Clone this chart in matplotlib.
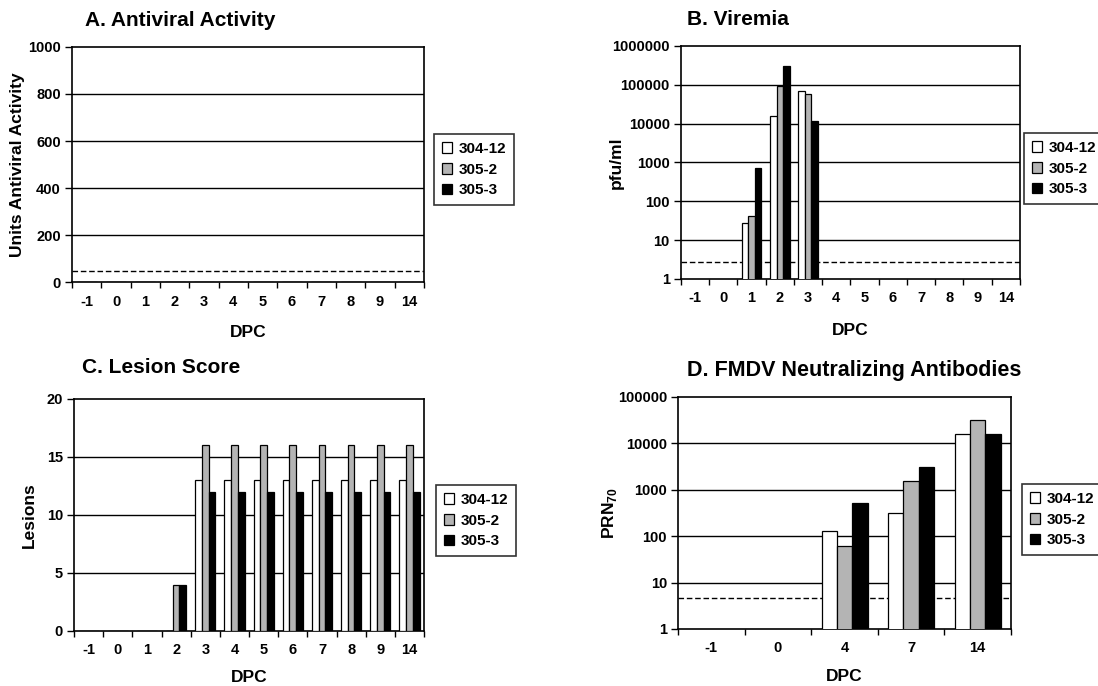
import numpy as np
import matplotlib
matplotlib.use('Agg')
import matplotlib.pyplot as plt
from matplotlib.ticker import FixedLocator

plt.rcParams['font.family'] = ['Liberation Sans', 'DejaVu Sans']
plt.rcParams['font.weight'] = 'bold'
plt.rcParams['mathtext.fontset'] = 'custom'
plt.rcParams['mathtext.rm'] = 'Liberation Sans:bold'
plt.rcParams['mathtext.bf'] = 'Liberation Sans:bold'

animals = ['304-12', '305-2', '305-3']
colors = ['white', '#b4b4b4', 'black']

# days post challenge
days = ['-1', '0', '1', '2', '3', '4', '5', '6', '7', '8', '9', '14']
days_ab = ['-1', '0', '4', '7', '14']

# A. antiviral activity (none detected)
antiviral_304_12 = [0, 0, 0, 0, 0, 0, 0, 0, 0, 0, 0, 0]
antiviral_305_2 = [0, 0, 0, 0, 0, 0, 0, 0, 0, 0, 0, 0]
antiviral_305_3 = [0, 0, 0, 0, 0, 0, 0, 0, 0, 0, 0, 0]
antiviral_limit = 45

# B. viremia, pfu/ml (nan = not detected)
nd = np.nan
viremia_304_12 = [nd, nd, 28, 15500, 68000, nd, nd, nd, nd, nd, nd, nd]
viremia_305_2 = [nd, nd, 42, 92000, 57000, nd, nd, nd, nd, nd, nd, nd]
viremia_305_3 = [nd, nd, 740, 300000, 11500, nd, nd, nd, nd, nd, nd, nd]
viremia_limit = 2.7

# C. lesion score
lesion_304_12 = [0, 0, 0, 0, 13, 13, 13, 13, 13, 13, 13, 13]
lesion_305_2 = [0, 0, 0, 4, 16, 16, 16, 16, 16, 16, 16, 16]
lesion_305_3 = [0, 0, 0, 4, 12, 12, 12, 12, 12, 12, 12, 12]

# D. neutralizing antibodies, PRN70
prn_304_12 = [nd, nd, 130, 316, 16000]
prn_305_2 = [nd, nd, 60, 1550, 32000]
prn_305_3 = [nd, nd, 520, 3150, 16000]
prn_limit = 4.7


def draw_panel(ax, cats, series, yticks, ylim, log=False, limit=None):
    x = np.arange(len(cats))
    w = 0.23
    if log:
        ax.set_yscale('log')
    for i, vals in enumerate(series):
        ax.bar(x + (i - 1) * w, vals, w, color=colors[i], edgecolor='black',
               linewidth=0.9, zorder=3)
    for t in yticks[1:-1]:
        ax.axhline(t, color='black', linewidth=1.0, zorder=1)
    if limit is not None:
        ax.axhline(limit, color='black', linewidth=1.0, linestyle=(0, (4, 2)), zorder=2)
    ax.set_xlim(-0.5, len(cats) - 0.5)
    ax.set_ylim(ylim)
    ax.yaxis.set_major_locator(FixedLocator(yticks))
    ax.yaxis.set_minor_locator(FixedLocator([]))
    ax.set_yticklabels([str(int(t)) for t in yticks])
    ax.set_xticks(x)
    ax.set_xticklabels(cats)
    ax.xaxis.set_minor_locator(FixedLocator(np.arange(len(cats) + 1) - 0.5))
    ax.tick_params(axis='x', which='major', length=0, pad=9, labelsize=10.5)
    ax.tick_params(axis='x', which='minor', length=4, width=1, direction='out')
    ax.tick_params(axis='y', which='major', length=5, width=1, direction='out',
                   pad=3, labelsize=10.5)
    for s in ax.spines.values():
        s.set_linewidth(1.2)
    ax.set_xlabel('DPC', fontsize=12.5, fontweight='bold', va='top')


fig = plt.figure(figsize=(10.98, 6.86), dpi=100)

axA = fig.add_axes([0.0656, 0.5889, 0.3206, 0.3426])
axB = fig.add_axes([0.6202, 0.5933, 0.3087, 0.3397])
axC = fig.add_axes([0.0674, 0.0802, 0.3188, 0.3382])
axD = fig.add_axes([0.6175, 0.0831, 0.3033, 0.3382])

draw_panel(axA, days, [antiviral_304_12, antiviral_305_2, antiviral_305_3],
           [0, 200, 400, 600, 800, 1000], (0, 1000), limit=antiviral_limit)
draw_panel(axB, days, [viremia_304_12, viremia_305_2, viremia_305_3],
           [1, 10, 100, 1000, 10000, 100000, 1000000], (1, 1000000), log=True,
           limit=viremia_limit)
draw_panel(axC, days, [lesion_304_12, lesion_305_2, lesion_305_3],
           [0, 5, 10, 15, 20], (0, 20))
draw_panel(axD, days_ab, [prn_304_12, prn_305_2, prn_305_3],
           [1, 10, 100, 1000, 10000, 100000], (1, 100000), log=True,
           limit=prn_limit)

axA.set_ylabel('Units Antiviral Activity', fontsize=12.5, fontweight='bold')
axB.set_ylabel('pfu/ml', fontsize=12.5, fontweight='bold')
axC.set_ylabel('Lesions', fontsize=12.5, fontweight='bold')
axD.set_ylabel(r'PRN$_{70}$', fontsize=12.5, fontweight='bold')

axA.yaxis.set_label_coords(-0.134, 0.5)
axB.yaxis.set_label_coords(-0.168, 0.5)
axC.yaxis.set_label_coords(-0.106, 0.5)
axD.yaxis.set_label_coords(-0.178, 0.5)
axA.xaxis.set_label_coords(0.5, -0.183)
axB.xaxis.set_label_coords(0.5, -0.19)
axC.xaxis.set_label_coords(0.5, -0.168)
axD.xaxis.set_label_coords(0.5, -0.172)

titles = [('A. Antiviral Activity', 0.0774, 0.9694, 15),
          ('B. Viremia', 0.6257, 0.9723, 15),
          ('C. Lesion Score', 0.0747, 0.4636, 15),
          ('D. FMDV Neutralizing Antibodies', 0.6257, 0.4606, 15.5)]
for txt, tx, ty, fs in titles:
    fig.text(tx, ty, txt, fontsize=fs, fontweight='bold', ha='left', va='center')

legend_pos = [(axA, 434, 134), (axB, 1024, 133), (axC, 436, 485), (axD, 1022, 484)]
for ax, lx, ly in legend_pos:
    handles = [plt.Rectangle((0, 0), 1, 1, facecolor=c, edgecolor='black', linewidth=0.9)
               for c in colors]
    leg = fig.legend(handles, animals, loc='upper left',
                     bbox_to_anchor=(lx / 1098, 1 - ly / 686),
                     frameon=True, fancybox=False, edgecolor='black',
                     prop={'size': 11, 'weight': 'bold'},
                     handlelength=0.7, handleheight=0.7, handletextpad=0.4,
                     labelspacing=0.45, borderpad=0.5, borderaxespad=0)
    leg.get_frame().set_linewidth(1.2)

fig.savefig('out.png', dpi=100)
